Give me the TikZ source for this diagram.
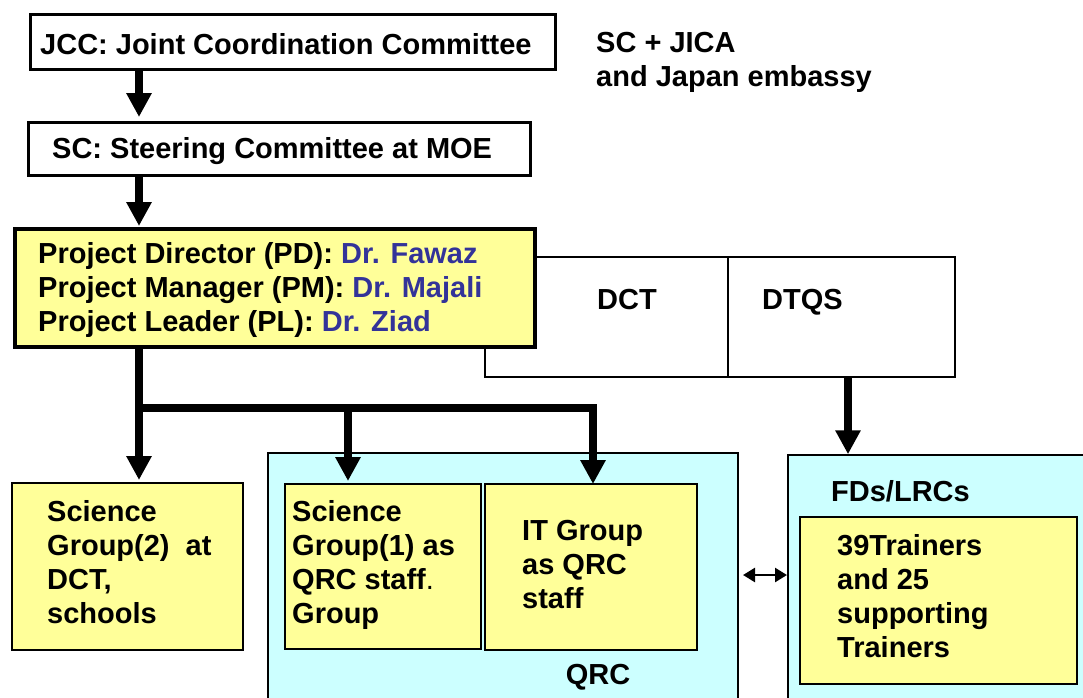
\documentclass[tikz,border=0pt]{standalone}
\usepackage{fontspec}
\setmainfont{Liberation Sans}
\usetikzlibrary{arrows.meta,fit}
\definecolor{yel}{RGB}{255,255,153}
\definecolor{cya}{RGB}{204,255,255}
\definecolor{drblue}{RGB}{51,51,153}
\newcommand\ml[1]{\begin{tabular}[t]{@{}l@{}}#1\end{tabular}}
\begin{document}
\begin{tikzpicture}[x=1pt,y=-1pt,
  bx/.style={draw, rectangle, inner sep=0pt},
  thickbox/.style={bx, line width=3pt, fill=white},
  orgbox/.style={bx, line width=1.3pt, fill=white},
  yelbox/.style={bx, line width=1.8pt, fill=yel},
  cyabox/.style={bx, line width=1.5pt, fill=cya},
  txt/.style={anchor=base west, inner sep=0pt, font=\fontsize{29}{34}\selectfont\bfseries},
  arr/.style={line width=8pt, -{Triangle[width=24pt,length=24pt]}},
  dbl/.style={line width=2.5pt, {Triangle[width=14pt,length=12pt]}-{Triangle[width=14pt,length=12pt]}}]
\useasboundingbox (0,0) rectangle (1083,697);
% boxes
\node[thickbox, fit={(30,14)(555,69)}] (jcc) {};
\node[thickbox, fit={(28,122)(530,175)}] (sc) {};
\node[orgbox, fit={(485,257)(728,377)}] (dct) {};
\node[orgbox, fit={(728,257)(955,377)}] (dtqs) {};
\node[bx, line width=4pt, fill=yel, fit={(15,229)(535,347)}] (pd) {};
\node[yelbox, fit={(12,483)(243,650)}] (sg2) {};
\node[cyabox, fit={(268,453)(738,705)}] (qrc) {};
\node[yelbox, fit={(285,484)(481,649)}] (sg1) {};
\node[yelbox, fit={(485,484)(697,650)}] (itg) {};
\node[cyabox, fit={(788,455)(1095,705)}] (fds) {};
\node[yelbox, fit={(800,517)(1077,684)}] (tr) {};
% texts
\node[txt] (tjcc) at (40,54) {JCC: Joint Coordination Committee};
\node[txt] (tsc) at (52,158) {SC: Steering Committee at MOE};
\node[txt] (tpd) at (38,263) {\ml{Project Director (PD): \textcolor{drblue}{Dr. Fawaz}\\Project Manager (PM): \textcolor{drblue}{Dr. Majali}\\Project Leader (PL): \textcolor{drblue}{Dr. Ziad}}};
\node[txt] (tsj) at (596,52) {\ml{SC + JICA\\and Japan embassy}};
\node[txt] (tdct) at (597,309) {DCT};
\node[txt] (tdtqs) at (762,309) {DTQS};
\node[txt] (tsg2) at (47,521) {\ml{Science\\Group(2)\ \ at\\DCT,\\schools}};
\node[txt] (tsg1) at (292,521) {\ml{Science\\Group(1) as\\QRC staff\textmd{.}\\Group}};
\node[txt] (titg) at (522,540) {\ml{IT Group\\as QRC\\staff}};
\node[txt, anchor=base] (tqrc) at (598,684) {QRC};
\node[txt] (tfds) at (831,501) {FDs/LRCs};
\node[txt] (ttr) at (837,555) {\ml{39Trainers\\and 25\\supporting\\Trainers}};
% connectors
\coordinate (j) at (139,407.5);
\coordinate (j1) at (348,407.5);
\coordinate (j2) at (593,407.5);
\draw[arr] (139,0 |- jcc.south) -- (139,117);
\draw[arr] (139,0 |- sc.south) -- (139,226);
\draw[arr] (139,0 |- pd.south) -- (139,480);
\draw[line width=8pt] (j) -- ([xshift=4pt]j2);
\draw[arr] (j1) -- (348,481);
\draw[arr] (j2) -- (593,484);
\draw[arr] (848,0 |- dtqs.south) -- (848,0 |- fds.north);
\draw[dbl] (743,575) -- (787,575);
\end{tikzpicture}
\end{document}
